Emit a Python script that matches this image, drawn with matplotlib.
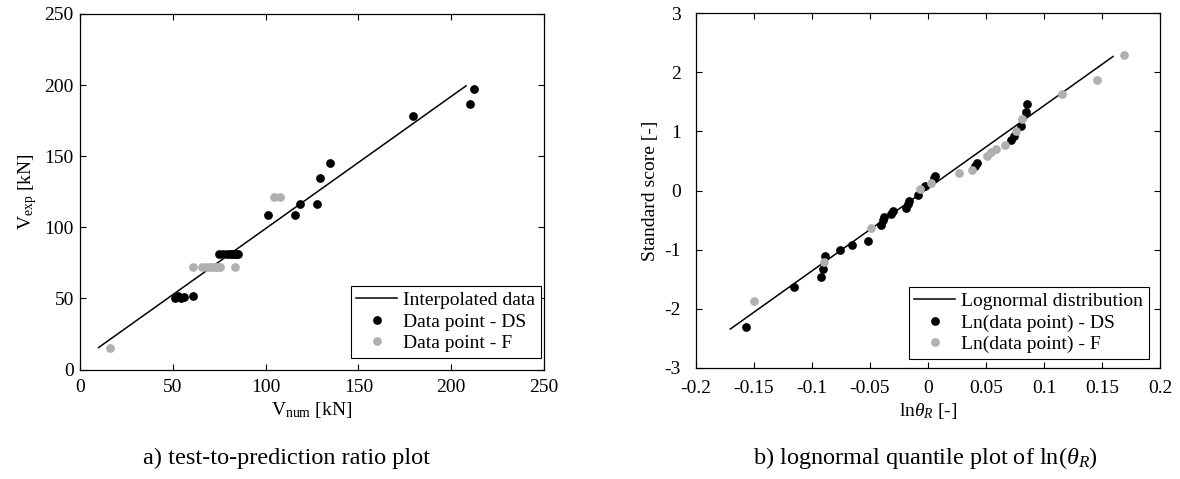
import matplotlib
matplotlib.use("Agg")
import matplotlib.pyplot as plt

plt.rcParams['font.family'] = ['Liberation Serif', 'DejaVu Serif']
plt.rcParams['mathtext.fontset'] = 'custom'
plt.rcParams['mathtext.rm'] = 'Liberation Serif'
plt.rcParams['mathtext.it'] = 'Liberation Serif:italic'
plt.rcParams['axes.unicode_minus'] = False

# ---- panel a data ----
ds_vnum = [51, 53, 54.5, 56, 61, 75, 77, 79, 81, 82, 83, 84, 85,
           101.5, 116, 118.5, 127.5, 129.5, 134.5, 179.5, 210, 212.5]
ds_vexp = [50.5, 52, 50.5, 51, 52, 81, 81, 81, 81, 81, 81, 81, 81,
           109, 109, 116.5, 116.5, 135, 145, 178, 187, 197]
f_vnum = [16, 61, 66, 68, 69.5, 71, 72.5, 74, 75.5, 83.5, 104.5, 108]
f_vexp = [15, 72, 72, 72, 72, 72, 72, 72, 72, 72, 121, 121]
fit_vnum = [10, 208]
fit_vexp = [15.5, 199.5]
ticks_a = [0, 50, 100, 150, 200, 250]

# ---- panel b data ----
ds_lnr = [-0.157, -0.1158, -0.0922, -0.0905, -0.0888, -0.0761, -0.0652, -0.0517,
          -0.0402, -0.039, -0.0383, -0.0316, -0.0304, -0.019, -0.0175, -0.016,
          -0.0086, -0.0028, 0.0049, 0.0058, 0.0403, 0.0426, 0.0713, 0.0745,
          0.0805, 0.0842, 0.0857]
ds_z = [-2.316, -1.628, -1.459, -1.323, -1.103, -1.013, -0.928, -0.85,
        -0.584, -0.499, -0.454, -0.398, -0.342, -0.302, -0.229, -0.178,
        -0.07, 0.082, 0.206, 0.245, 0.42, 0.46, 0.855, 0.923,
        1.097, 1.329, 1.464]
f_lnr = [-0.1503, -0.0897, -0.0491, -0.0072, 0.0026, 0.0265, 0.0379, 0.0509,
         0.0543, 0.0586, 0.0661, 0.0762, 0.081, 0.1155, 0.1457, 0.169]
f_z = [-1.871, -1.205, -0.64, 0.025, 0.132, 0.291, 0.347, 0.584,
       0.647, 0.708, 0.776, 1.012, 1.205, 1.634, 1.871, 2.29]
fit_lnr = [-0.1704, 0.1596]
fit_z = [-2.345, 2.27]
xticks_b = [-0.2, -0.15, -0.1, -0.05, 0, 0.05, 0.1, 0.15, 0.2]
xticklabels_b = ['-0.2', '-0.15', '-0.1', '-0.05', '0', '0.05', '0.1', '0.15', '0.2']
yticks_b = [-3, -2, -1, 0, 1, 2, 3]

GRAY = '#b0b0b0'
FS = 14

fig = plt.figure(figsize=(11.8, 4.79), dpi=100)
W, H = 1180, 479
axa = fig.add_axes([80 / W, 1 - 369.6 / H, 464 / W, 355.6 / H])
axb = fig.add_axes([696 / W, 1 - 367.7 / H, 464 / W, 354.4 / H])

def style(ax, ypad, xpad):
    ax.tick_params(direction='in', top=True, right=True, length=4, width=0.8,
                   labelsize=FS)
    ax.tick_params(axis='y', pad=ypad)
    ax.tick_params(axis='x', pad=xpad)
    for s in ax.spines.values():
        s.set_linewidth(0.9)

leg_kw = dict(fontsize=FS, frameon=True, fancybox=False, edgecolor='black',
              framealpha=1, borderaxespad=0, handlelength=2.1,
              handletextpad=0.3, borderpad=0.3, labelspacing=0.2)

# panel a
axa.plot(fit_vnum, fit_vexp, color='black', lw=1.1, label='Interpolated data', zorder=2)
axa.plot(ds_vnum, ds_vexp, 'o', color='black', ms=6.3, mec='none', label='Data point - DS', zorder=3)
axa.plot(f_vnum, f_vexp, 'o', color=GRAY, ms=6.3, mec='none', label='Data point - F', zorder=3)
axa.set_xlim(0, 250)
axa.set_ylim(0, 250)
axa.set_xticks(ticks_a)
axa.set_yticks(ticks_a)
style(axa, 4.5, 7)
axa.set_xlabel('V$_{\\mathrm{num}}$ [kN]', fontsize=FS, labelpad=3)
axa.set_ylabel('V$_{\\mathrm{exp}}$ [kN]', fontsize=FS, labelpad=4)
lga = axa.legend(loc='lower right', bbox_to_anchor=(0.9935, 0.0326), **leg_kw)
lga.get_frame().set_linewidth(0.8)

# panel b
axb.plot(fit_lnr, fit_z, color='black', lw=1.1, label='Lognormal distribution', zorder=2)
axb.plot(ds_lnr, ds_z, 'o', color='black', ms=6.3, mec='none', label='Ln(data point) - DS', zorder=3)
axb.plot(f_lnr, f_z, 'o', color=GRAY, ms=6.3, mec='none', label='Ln(data point) - F', zorder=3)
axb.set_xlim(-0.2, 0.2)
axb.set_ylim(-3, 3)
axb.set_xticks(xticks_b)
axb.set_xticklabels(xticklabels_b)
axb.set_yticks(yticks_b)
style(axb, 11, 8.5)
axb.set_xlabel('ln$\\theta_R$ [-]', fontsize=FS, labelpad=3)
axb.set_ylabel('Standard score [-]', fontsize=FS, labelpad=4)
lgb = axb.legend(loc='lower right', bbox_to_anchor=(0.976, 0.0245), **leg_kw)
lgb.get_frame().set_linewidth(0.8)

fig.text(143 / W, 1 - 458 / H, 'a) test-to-prediction ratio plot', fontsize=17.5,
         ha='left', va='center')
fig.text(753 / W, 1 - 458 / H, 'b) lognormal quantile plot of ln($\\theta_R$)', fontsize=17.5,
         ha='left', va='center')

fig.savefig('out.png', dpi=100)
